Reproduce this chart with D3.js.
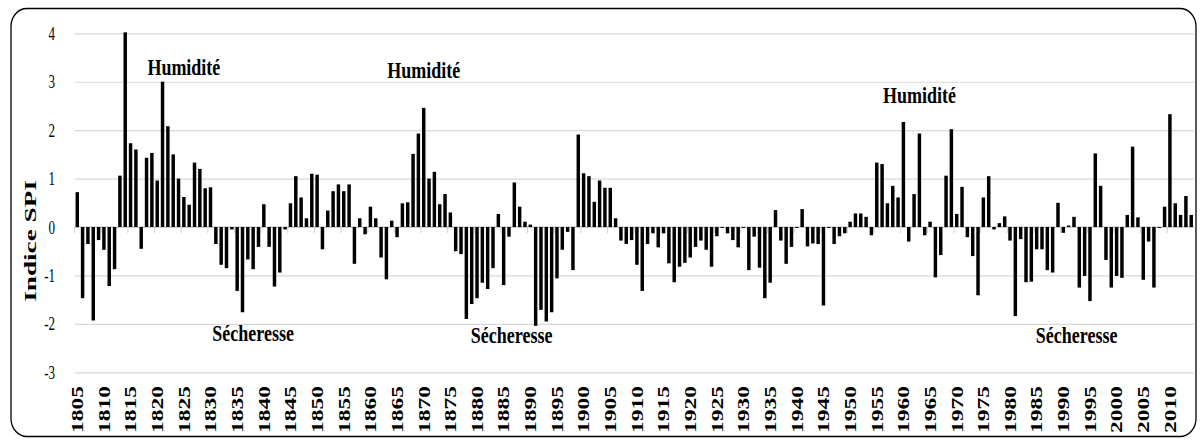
<!DOCTYPE html>
<html>
<head>
<meta charset="utf-8">
<script src="https://cdn.jsdelivr.net/npm/d3@7"></script>
<style>
  html, body { margin: 0; padding: 0; background: #fff; }
  svg { display: block; }
  text { font-family: "Liberation Serif", "Times New Roman", serif; fill: #000; }
</style>
</head>
<body>
<svg id="chart" width="1201" height="445"></svg>
<script>
// Annual SPI (Standardized Precipitation Index), 1805–2014
const firstYear = 1805;
const lastYear = 2014;
const years = d3.range(firstYear, lastYear + 1);

const spi = [
  0.72, -1.47, -0.35, -1.93, -0.27, -0.47, -1.22, -0.87, 1.06, 4.02,   // 1805-1814
  1.73, 1.60, -0.45, 1.43, 1.53, 0.96, 3.00, 2.08, 1.50, 1.00,         // 1815-1824
  0.62, 0.46, 1.33, 1.20, 0.80, 0.82, -0.35, -0.78, -0.85, -0.05,      // 1825-1834
  -1.32, -1.76, -0.67, -0.87, -0.41, 0.47, -0.41, -1.23, -0.94, -0.05, // 1835-1844
  0.49, 1.05, 0.61, 0.18, 1.10, 1.08, -0.46, 0.34, 0.74, 0.88,         // 1845-1854
  0.74, 0.88, -0.76, 0.18, -0.15, 0.42, 0.18, -0.63, -1.08, 0.13,      // 1855-1864
  -0.21, 0.49, 0.51, 1.51, 1.93, 2.46, 1.00, 1.14, 0.47, 0.68,         // 1865-1874
  0.30, -0.50, -0.56, -1.90, -1.59, -1.47, -1.15, -1.28, -0.85, 0.27,  // 1875-1884
  -1.20, -0.20, 0.92, 0.42, 0.11, 0.05, -2.04, -1.71, -1.95, -1.76,    // 1885-1894
  -1.06, -0.47, -0.10, -0.89, 1.91, 1.11, 1.05, 0.52, 0.96, 0.81,      // 1895-1904
  0.81, 0.18, -0.28, -0.35, -0.27, -0.78, -1.32, -0.35, -0.13, -0.42,  // 1905-1914
  -0.13, -0.75, -1.14, -0.82, -0.74, -0.63, -0.41, -0.28, -0.47, -0.82,// 1915-1924
  -0.19, -0.02, -0.13, -0.27, -0.42, -0.02, -0.89, -0.20, -0.84, -1.47,// 1925-1934
  -1.15, 0.35, -0.28, -0.76, -0.41, -0.02, 0.37, -0.40, -0.34, -0.35,  // 1935-1944
  -1.62, -0.02, -0.35, -0.19, -0.13, 0.11, 0.28, 0.28, 0.21, -0.17,    // 1945-1954
  1.33, 1.30, 0.49, 0.85, 0.61, 2.17, -0.30, 0.68, 1.93, -0.17,        // 1955-1964
  0.11, -1.04, -0.58, 1.06, 2.02, 0.27, 0.83, -0.21, -0.60, -1.41,     // 1965-1974
  0.61, 1.05, -0.05, 0.08, 0.22, -0.28, -1.84, -0.25, -1.14, -1.13,    // 1975-1984
  -0.46, -0.46, -0.89, -0.94, 0.50, -0.12, 0.03, 0.21, -1.25, -1.01,   // 1985-1994
  -1.53, 1.52, 0.85, -0.68, -1.25, -1.01, -1.05, 0.25, 1.66, 0.20,     // 1995-2004
  -1.09, -0.30, -1.25, -0.02, 0.42, 2.33, 0.49, 0.25, 0.64, 0.25       // 2005-2014
];

const yTicks = [-3, -2, -1, 0, 1, 2, 3, 4];
const yTitle = "Indice SPI";

// Period annotations: label, the (fractional) year it is centred on, and its baseline value
const noteLabels = ["Humidité", "Humidité", "Humidité", "Sécheresse", "Sécheresse", "Sécheresse"];
const noteYears  = [1825, 1870, 1963, 1838, 1886.5, 1992.5];
const noteValues = [3.14, 3.08, 2.56, -2.36, -2.4, -2.4];

const data = years.map((y, i) => ({ year: y, value: spi[i] }));

const svg = d3.select("#chart");

const plot = { left: 74.6, right: 1193.9, top: 33.3, bottom: 372.3 };

const x = d3.scaleBand()
  .domain(years)
  .range([plot.left, plot.right])
  .paddingInner(0.35)
  .paddingOuter(0.175);

const y = d3.scaleLinear()
  .domain([-3, 4])
  .range([plot.bottom, plot.top]);

// Centre of a (possibly fractional) year on the band scale
const xCenter = yr => {
  const base = Math.floor(yr);
  return x(base) + x.bandwidth() / 2 + (yr - base) * x.step();
};

// Outer frame
svg.append("rect")
  .attr("x", 11).attr("y", 8.5)
  .attr("width", 1185).attr("height", 428)
  .attr("rx", 16).attr("ry", 18)
  .attr("fill", "none")
  .attr("stroke", "#000")
  .attr("stroke-width", 1.3);

// Horizontal gridlines
const yAxis = d3.axisLeft(y)
  .tickValues(yTicks)
  .tickSize(-(plot.right - plot.left))
  .tickFormat("");
const gGrid = svg.append("g")
  .attr("transform", `translate(${plot.left},0)`)
  .call(yAxis);
gGrid.select(".domain").remove();
gGrid.selectAll(".tick line").attr("stroke", "#d9d9d9").attr("stroke-width", 1.2);

// Y tick labels
svg.append("g").selectAll("text")
  .data(yTicks)
  .join("text")
  .attr("text-anchor", "end")
  .attr("font-size", 13)
  .attr("transform", d => `translate(55,${y(d) + 6.5}) scale(1,1.5)`)
  .text(d => d);

// Category ticks every 5 years along the zero line
const step = x.step();
const tickYears = years.filter(yr => (yr - firstYear) % 5 === 0);
svg.append("g").selectAll("line")
  .data(tickYears)
  .join("line")
  .attr("x1", d => x(d) - step * x.paddingInner() / 2)
  .attr("x2", d => x(d) - step * x.paddingInner() / 2)
  .attr("y1", y(0))
  .attr("y2", y(0) + 6)
  .attr("stroke", "#d0d0d0")
  .attr("stroke-width", 1);

// Zero line
svg.append("line")
  .attr("x1", plot.left).attr("x2", plot.right)
  .attr("y1", y(0)).attr("y2", y(0))
  .attr("stroke", "#bfbfbf")
  .attr("stroke-width", 1.2);

// Bars
svg.append("g").selectAll("rect")
  .data(data)
  .join("rect")
  .attr("x", d => x(d.year))
  .attr("width", x.bandwidth())
  .attr("y", d => y(Math.max(0, d.value)))
  .attr("height", d => Math.abs(y(d.value) - y(0)))
  .attr("fill", "#000");

// X tick labels (rotated)
svg.append("g").selectAll("text")
  .data(tickYears)
  .join("text")
  .attr("text-anchor", "end")
  .attr("font-size", 17)
  .attr("font-weight", "bold")
  .attr("transform", d => `translate(${xCenter(d) + 5.8},386) scale(1,1.38) rotate(-90)`)
  .text(d => d);

// Y axis title
svg.append("text")
  .attr("text-anchor", "middle")
  .attr("font-size", 17)
  .attr("font-weight", "bold")
  .attr("transform", "translate(36,241) scale(1,1.6) rotate(-90)")
  .text(yTitle);

// Period annotations
svg.append("g").selectAll("text")
  .data(noteLabels.map((t, i) => ({ t, yr: noteYears[i], v: noteValues[i] })))
  .join("text")
  .attr("text-anchor", "middle")
  .attr("font-size", 18)
  .attr("font-weight", "bold")
  .attr("transform", d => `translate(${xCenter(d.yr)},${y(d.v)}) scale(1,1.25)`)
  .text(d => d.t);
</script>
</body>
</html>
